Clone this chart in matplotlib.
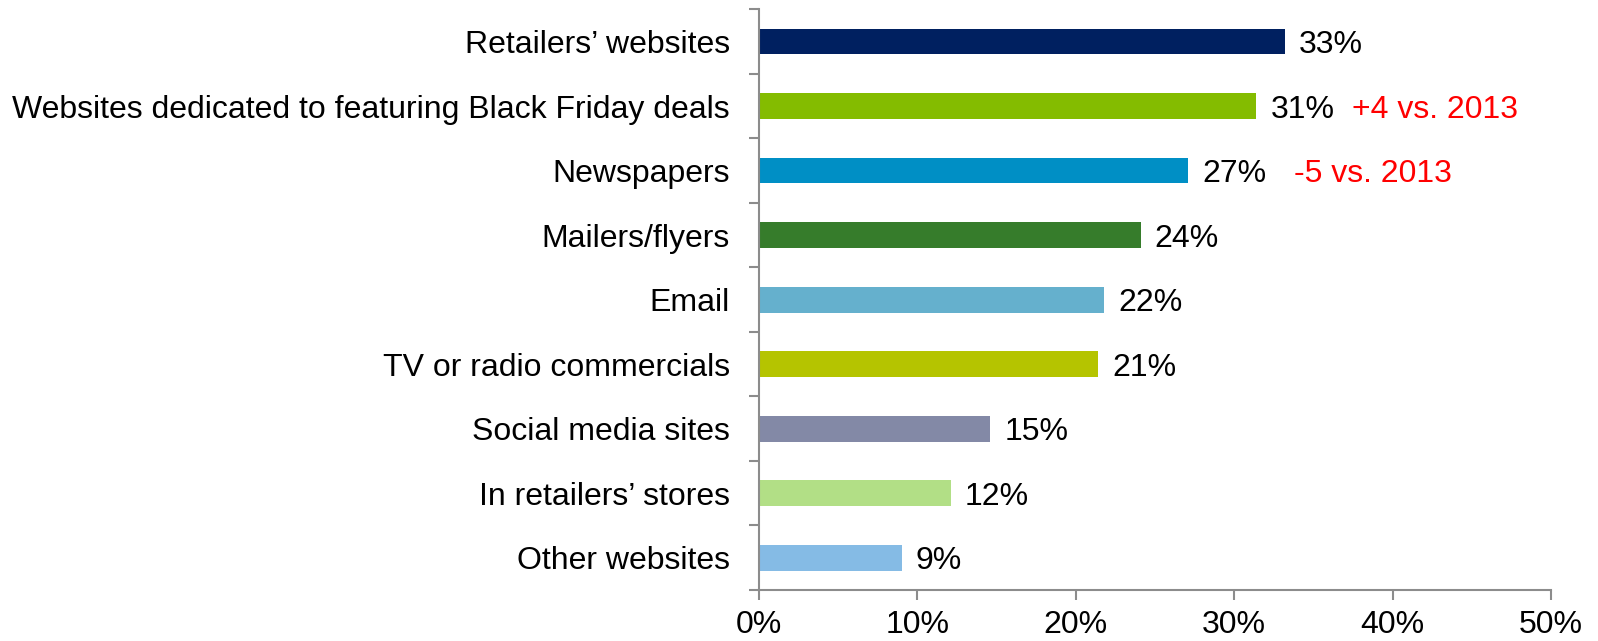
import matplotlib
matplotlib.use("Agg")
import matplotlib.pyplot as plt
import numpy as np

# Where shoppers looked for Black Friday deals
categories = [
    "Retailers\u2019 websites",
    "Websites dedicated to featuring Black Friday deals",
    "Newspapers",
    "Mailers/flyers",
    "Email",
    "TV or radio commercials",
    "Social media sites",
    "In retailers\u2019 stores",
    "Other websites",
]
shares = [33.2, 31.4, 27.1, 24.1, 21.8, 21.4, 14.6, 12.1, 9.0]
colors = ["#002060", "#84BC00", "#008FC5", "#367C2B", "#65B0CD",
          "#B5C400", "#8389A6", "#B2DF86", "#85BBE5"]

# change vs. previous year, keyed by category index
changes = {1: "+4 vs. 2013", 2: "-5 vs. 2013"}
change_offsets = {1: 69, 2: 76}

x_ticks = [0, 10, 20, 30, 40, 50]

plt.rcParams["font.family"] = ["Liberation Sans", "DejaVu Sans"]
fs = 23

fig = plt.figure(figsize=(15.98, 6.41), dpi=100)
ax = fig.add_axes([0.475, 0.0796, 0.4956, 0.906])

y = np.arange(len(categories))
ax.barh(y, shares, height=0.4, color=colors)
ax.set_ylim(len(categories) - 0.5, -0.5)
ax.set_xlim(0, 50)

for i, v in enumerate(shares):
    ax.annotate(f"{v:.0f}%", xy=(v, i), xytext=(10, 0), textcoords="offset points",
                va="center_baseline", ha="left", fontsize=fs, color="black")
    if i in changes:
        ax.annotate(changes[i], xy=(v, i), xytext=(change_offsets[i], 0),
                    textcoords="offset points", va="center_baseline", ha="left",
                    fontsize=fs, color="#FF0000")

# category ticks sit between the bars
ax.set_yticks(y)
ax.set_yticklabels(categories, fontsize=fs)
ax.set_yticks(np.arange(-0.5, len(categories), 1), minor=True)
ax.tick_params(axis="y", which="major", length=0, pad=21)
ax.tick_params(axis="y", which="minor", length=7, width=1.5, color="#8C8C8C")

ax.set_xticks(x_ticks)
ax.set_xticklabels([f"{t}%" for t in x_ticks], fontsize=fs)
ax.tick_params(axis="x", length=7.5, width=1.5, color="#8C8C8C", pad=7)

for side in ["top", "right"]:
    ax.spines[side].set_visible(False)
for side in ["left", "bottom"]:
    ax.spines[side].set_color("#8C8C8C")
    ax.spines[side].set_linewidth(1.5)

fig.savefig("out.png", dpi=100)
